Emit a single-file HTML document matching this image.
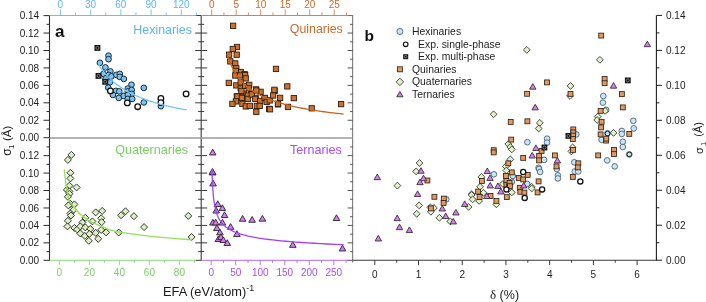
<!DOCTYPE html>
<html><head><meta charset="utf-8"><title>Figure</title>
<style>
html,body{margin:0;padding:0;background:#fff;}
body{width:706px;height:302px;overflow:hidden;}
svg{display:block;font-family:"Liberation Sans", sans-serif;filter:blur(0.3px);}
</style></head>
<body>
<svg width="706" height="302" viewBox="0 0 706 302">
<rect width="706" height="302" fill="#fff"/>
<line x1="49.50" y1="15.00" x2="49.50" y2="260.80" stroke="#2a2a2a" stroke-width="1.1"/>
<line x1="43.50" y1="137.70" x2="49.50" y2="137.70" stroke="#2a2a2a" stroke-width="1.0"/>
<text x="39.20" y="141.30" font-size="10" fill="#1e1e1e" text-anchor="end" font-weight="normal" >0.00</text>
<line x1="43.50" y1="260.30" x2="49.50" y2="260.30" stroke="#2a2a2a" stroke-width="1.0"/>
<text x="39.20" y="263.90" font-size="10" fill="#1e1e1e" text-anchor="end" font-weight="normal" >0.00</text>
<line x1="46.50" y1="128.98" x2="49.50" y2="128.98" stroke="#2a2a2a" stroke-width="1.0"/>
<line x1="46.50" y1="251.58" x2="49.50" y2="251.58" stroke="#2a2a2a" stroke-width="1.0"/>
<line x1="43.50" y1="120.26" x2="49.50" y2="120.26" stroke="#2a2a2a" stroke-width="1.0"/>
<text x="39.20" y="123.86" font-size="10" fill="#1e1e1e" text-anchor="end" font-weight="normal" >0.02</text>
<line x1="43.50" y1="242.86" x2="49.50" y2="242.86" stroke="#2a2a2a" stroke-width="1.0"/>
<text x="39.20" y="246.46" font-size="10" fill="#1e1e1e" text-anchor="end" font-weight="normal" >0.02</text>
<line x1="46.50" y1="111.54" x2="49.50" y2="111.54" stroke="#2a2a2a" stroke-width="1.0"/>
<line x1="46.50" y1="234.14" x2="49.50" y2="234.14" stroke="#2a2a2a" stroke-width="1.0"/>
<line x1="43.50" y1="102.82" x2="49.50" y2="102.82" stroke="#2a2a2a" stroke-width="1.0"/>
<text x="39.20" y="106.42" font-size="10" fill="#1e1e1e" text-anchor="end" font-weight="normal" >0.04</text>
<line x1="43.50" y1="225.42" x2="49.50" y2="225.42" stroke="#2a2a2a" stroke-width="1.0"/>
<text x="39.20" y="229.02" font-size="10" fill="#1e1e1e" text-anchor="end" font-weight="normal" >0.04</text>
<line x1="46.50" y1="94.09" x2="49.50" y2="94.09" stroke="#2a2a2a" stroke-width="1.0"/>
<line x1="46.50" y1="216.69" x2="49.50" y2="216.69" stroke="#2a2a2a" stroke-width="1.0"/>
<line x1="43.50" y1="85.37" x2="49.50" y2="85.37" stroke="#2a2a2a" stroke-width="1.0"/>
<text x="39.20" y="88.97" font-size="10" fill="#1e1e1e" text-anchor="end" font-weight="normal" >0.06</text>
<line x1="43.50" y1="207.97" x2="49.50" y2="207.97" stroke="#2a2a2a" stroke-width="1.0"/>
<text x="39.20" y="211.57" font-size="10" fill="#1e1e1e" text-anchor="end" font-weight="normal" >0.06</text>
<line x1="46.50" y1="76.65" x2="49.50" y2="76.65" stroke="#2a2a2a" stroke-width="1.0"/>
<line x1="46.50" y1="199.25" x2="49.50" y2="199.25" stroke="#2a2a2a" stroke-width="1.0"/>
<line x1="43.50" y1="67.93" x2="49.50" y2="67.93" stroke="#2a2a2a" stroke-width="1.0"/>
<text x="39.20" y="71.53" font-size="10" fill="#1e1e1e" text-anchor="end" font-weight="normal" >0.08</text>
<line x1="43.50" y1="190.53" x2="49.50" y2="190.53" stroke="#2a2a2a" stroke-width="1.0"/>
<text x="39.20" y="194.13" font-size="10" fill="#1e1e1e" text-anchor="end" font-weight="normal" >0.08</text>
<line x1="46.50" y1="59.21" x2="49.50" y2="59.21" stroke="#2a2a2a" stroke-width="1.0"/>
<line x1="46.50" y1="181.81" x2="49.50" y2="181.81" stroke="#2a2a2a" stroke-width="1.0"/>
<line x1="43.50" y1="50.49" x2="49.50" y2="50.49" stroke="#2a2a2a" stroke-width="1.0"/>
<text x="39.20" y="54.09" font-size="10" fill="#1e1e1e" text-anchor="end" font-weight="normal" >0.10</text>
<line x1="43.50" y1="173.09" x2="49.50" y2="173.09" stroke="#2a2a2a" stroke-width="1.0"/>
<text x="39.20" y="176.69" font-size="10" fill="#1e1e1e" text-anchor="end" font-weight="normal" >0.10</text>
<line x1="46.50" y1="41.77" x2="49.50" y2="41.77" stroke="#2a2a2a" stroke-width="1.0"/>
<line x1="46.50" y1="164.37" x2="49.50" y2="164.37" stroke="#2a2a2a" stroke-width="1.0"/>
<line x1="43.50" y1="33.05" x2="49.50" y2="33.05" stroke="#2a2a2a" stroke-width="1.0"/>
<text x="39.20" y="36.65" font-size="10" fill="#1e1e1e" text-anchor="end" font-weight="normal" >0.12</text>
<line x1="43.50" y1="155.65" x2="49.50" y2="155.65" stroke="#2a2a2a" stroke-width="1.0"/>
<text x="39.20" y="159.25" font-size="10" fill="#1e1e1e" text-anchor="end" font-weight="normal" >0.12</text>
<line x1="46.50" y1="24.33" x2="49.50" y2="24.33" stroke="#2a2a2a" stroke-width="1.0"/>
<line x1="46.50" y1="146.93" x2="49.50" y2="146.93" stroke="#2a2a2a" stroke-width="1.0"/>
<line x1="43.50" y1="15.61" x2="49.50" y2="15.61" stroke="#2a2a2a" stroke-width="1.0"/>
<text x="39.20" y="19.21" font-size="10" fill="#1e1e1e" text-anchor="end" font-weight="normal" >0.14</text>
<line x1="201.20" y1="15.50" x2="201.20" y2="260.80" stroke="#3a3a3a" stroke-width="1.1"/>
<line x1="198.20" y1="128.98" x2="204.20" y2="128.98" stroke="#3a3a3a" stroke-width="1.0"/>
<line x1="198.20" y1="251.58" x2="204.20" y2="251.58" stroke="#3a3a3a" stroke-width="1.0"/>
<line x1="195.20" y1="120.26" x2="207.20" y2="120.26" stroke="#3a3a3a" stroke-width="1.0"/>
<line x1="195.20" y1="242.86" x2="207.20" y2="242.86" stroke="#3a3a3a" stroke-width="1.0"/>
<line x1="198.20" y1="111.54" x2="204.20" y2="111.54" stroke="#3a3a3a" stroke-width="1.0"/>
<line x1="198.20" y1="234.14" x2="204.20" y2="234.14" stroke="#3a3a3a" stroke-width="1.0"/>
<line x1="195.20" y1="102.82" x2="207.20" y2="102.82" stroke="#3a3a3a" stroke-width="1.0"/>
<line x1="195.20" y1="225.42" x2="207.20" y2="225.42" stroke="#3a3a3a" stroke-width="1.0"/>
<line x1="198.20" y1="94.09" x2="204.20" y2="94.09" stroke="#3a3a3a" stroke-width="1.0"/>
<line x1="198.20" y1="216.69" x2="204.20" y2="216.69" stroke="#3a3a3a" stroke-width="1.0"/>
<line x1="195.20" y1="85.37" x2="207.20" y2="85.37" stroke="#3a3a3a" stroke-width="1.0"/>
<line x1="195.20" y1="207.97" x2="207.20" y2="207.97" stroke="#3a3a3a" stroke-width="1.0"/>
<line x1="198.20" y1="76.65" x2="204.20" y2="76.65" stroke="#3a3a3a" stroke-width="1.0"/>
<line x1="198.20" y1="199.25" x2="204.20" y2="199.25" stroke="#3a3a3a" stroke-width="1.0"/>
<line x1="195.20" y1="67.93" x2="207.20" y2="67.93" stroke="#3a3a3a" stroke-width="1.0"/>
<line x1="195.20" y1="190.53" x2="207.20" y2="190.53" stroke="#3a3a3a" stroke-width="1.0"/>
<line x1="198.20" y1="59.21" x2="204.20" y2="59.21" stroke="#3a3a3a" stroke-width="1.0"/>
<line x1="198.20" y1="181.81" x2="204.20" y2="181.81" stroke="#3a3a3a" stroke-width="1.0"/>
<line x1="195.20" y1="50.49" x2="207.20" y2="50.49" stroke="#3a3a3a" stroke-width="1.0"/>
<line x1="195.20" y1="173.09" x2="207.20" y2="173.09" stroke="#3a3a3a" stroke-width="1.0"/>
<line x1="198.20" y1="41.77" x2="204.20" y2="41.77" stroke="#3a3a3a" stroke-width="1.0"/>
<line x1="198.20" y1="164.37" x2="204.20" y2="164.37" stroke="#3a3a3a" stroke-width="1.0"/>
<line x1="195.20" y1="33.05" x2="207.20" y2="33.05" stroke="#3a3a3a" stroke-width="1.0"/>
<line x1="195.20" y1="155.65" x2="207.20" y2="155.65" stroke="#3a3a3a" stroke-width="1.0"/>
<line x1="198.20" y1="24.33" x2="204.20" y2="24.33" stroke="#3a3a3a" stroke-width="1.0"/>
<line x1="198.20" y1="146.93" x2="204.20" y2="146.93" stroke="#3a3a3a" stroke-width="1.0"/>
<line x1="352.60" y1="15.00" x2="352.60" y2="262.60" stroke="#858585" stroke-width="1.2"/>
<line x1="350.10" y1="128.98" x2="352.60" y2="128.98" stroke="#555" stroke-width="1.0"/>
<line x1="350.10" y1="251.58" x2="352.60" y2="251.58" stroke="#555" stroke-width="1.0"/>
<line x1="347.60" y1="120.26" x2="352.60" y2="120.26" stroke="#555" stroke-width="1.0"/>
<line x1="347.60" y1="242.86" x2="352.60" y2="242.86" stroke="#555" stroke-width="1.0"/>
<line x1="350.10" y1="111.54" x2="352.60" y2="111.54" stroke="#555" stroke-width="1.0"/>
<line x1="350.10" y1="234.14" x2="352.60" y2="234.14" stroke="#555" stroke-width="1.0"/>
<line x1="347.60" y1="102.82" x2="352.60" y2="102.82" stroke="#555" stroke-width="1.0"/>
<line x1="347.60" y1="225.42" x2="352.60" y2="225.42" stroke="#555" stroke-width="1.0"/>
<line x1="350.10" y1="94.09" x2="352.60" y2="94.09" stroke="#555" stroke-width="1.0"/>
<line x1="350.10" y1="216.69" x2="352.60" y2="216.69" stroke="#555" stroke-width="1.0"/>
<line x1="347.60" y1="85.37" x2="352.60" y2="85.37" stroke="#555" stroke-width="1.0"/>
<line x1="347.60" y1="207.97" x2="352.60" y2="207.97" stroke="#555" stroke-width="1.0"/>
<line x1="350.10" y1="76.65" x2="352.60" y2="76.65" stroke="#555" stroke-width="1.0"/>
<line x1="350.10" y1="199.25" x2="352.60" y2="199.25" stroke="#555" stroke-width="1.0"/>
<line x1="347.60" y1="67.93" x2="352.60" y2="67.93" stroke="#555" stroke-width="1.0"/>
<line x1="347.60" y1="190.53" x2="352.60" y2="190.53" stroke="#555" stroke-width="1.0"/>
<line x1="350.10" y1="59.21" x2="352.60" y2="59.21" stroke="#555" stroke-width="1.0"/>
<line x1="350.10" y1="181.81" x2="352.60" y2="181.81" stroke="#555" stroke-width="1.0"/>
<line x1="347.60" y1="50.49" x2="352.60" y2="50.49" stroke="#555" stroke-width="1.0"/>
<line x1="347.60" y1="173.09" x2="352.60" y2="173.09" stroke="#555" stroke-width="1.0"/>
<line x1="350.10" y1="41.77" x2="352.60" y2="41.77" stroke="#555" stroke-width="1.0"/>
<line x1="350.10" y1="164.37" x2="352.60" y2="164.37" stroke="#555" stroke-width="1.0"/>
<line x1="347.60" y1="33.05" x2="352.60" y2="33.05" stroke="#555" stroke-width="1.0"/>
<line x1="347.60" y1="155.65" x2="352.60" y2="155.65" stroke="#555" stroke-width="1.0"/>
<line x1="350.10" y1="24.33" x2="352.60" y2="24.33" stroke="#555" stroke-width="1.0"/>
<line x1="350.10" y1="146.93" x2="352.60" y2="146.93" stroke="#555" stroke-width="1.0"/>
<line x1="49.50" y1="137.95" x2="352.60" y2="137.95" stroke="#9a9a9a" stroke-width="1.5"/>
<line x1="49.50" y1="15.50" x2="195.70" y2="15.50" stroke="#6cbff2" stroke-width="1.0"/>
<line x1="195.70" y1="15.50" x2="201.20" y2="15.50" stroke="#3a3a3a" stroke-width="1.0"/>
<line x1="60.40" y1="9.50" x2="60.40" y2="15.50" stroke="#6cbff2" stroke-width="0.9"/>
<text x="60.40" y="7.70" font-size="10" fill="#5cb6ee" text-anchor="middle" font-weight="normal" >0</text>
<line x1="75.51" y1="12.50" x2="75.51" y2="15.50" stroke="#6cbff2" stroke-width="0.9"/>
<line x1="90.62" y1="9.50" x2="90.62" y2="15.50" stroke="#6cbff2" stroke-width="0.9"/>
<text x="90.62" y="7.70" font-size="10" fill="#5cb6ee" text-anchor="middle" font-weight="normal" >30</text>
<line x1="105.74" y1="12.50" x2="105.74" y2="15.50" stroke="#6cbff2" stroke-width="0.9"/>
<line x1="120.85" y1="9.50" x2="120.85" y2="15.50" stroke="#6cbff2" stroke-width="0.9"/>
<text x="120.85" y="7.70" font-size="10" fill="#5cb6ee" text-anchor="middle" font-weight="normal" >60</text>
<line x1="135.96" y1="12.50" x2="135.96" y2="15.50" stroke="#6cbff2" stroke-width="0.9"/>
<line x1="151.08" y1="9.50" x2="151.08" y2="15.50" stroke="#6cbff2" stroke-width="0.9"/>
<text x="151.08" y="7.70" font-size="10" fill="#5cb6ee" text-anchor="middle" font-weight="normal" >90</text>
<line x1="166.19" y1="12.50" x2="166.19" y2="15.50" stroke="#6cbff2" stroke-width="0.9"/>
<line x1="181.30" y1="9.50" x2="181.30" y2="15.50" stroke="#6cbff2" stroke-width="0.9"/>
<text x="181.30" y="7.70" font-size="10" fill="#5cb6ee" text-anchor="middle" font-weight="normal" >120</text>
<line x1="196.41" y1="12.50" x2="196.41" y2="15.50" stroke="#6cbff2" stroke-width="0.9"/>
<line x1="201.20" y1="15.50" x2="348.10" y2="15.50" stroke="#d5824a" stroke-width="1.0"/>
<line x1="348.10" y1="15.50" x2="352.60" y2="15.50" stroke="#6e6e6e" stroke-width="1.0"/>
<line x1="211.70" y1="9.50" x2="211.70" y2="15.50" stroke="#d5824a" stroke-width="0.9"/>
<text x="211.70" y="7.70" font-size="10" fill="#c96a2a" text-anchor="middle" font-weight="normal" >0</text>
<line x1="223.95" y1="12.50" x2="223.95" y2="15.50" stroke="#d5824a" stroke-width="0.9"/>
<line x1="236.20" y1="9.50" x2="236.20" y2="15.50" stroke="#d5824a" stroke-width="0.9"/>
<text x="236.20" y="7.70" font-size="10" fill="#c96a2a" text-anchor="middle" font-weight="normal" >5</text>
<line x1="248.45" y1="12.50" x2="248.45" y2="15.50" stroke="#d5824a" stroke-width="0.9"/>
<line x1="260.70" y1="9.50" x2="260.70" y2="15.50" stroke="#d5824a" stroke-width="0.9"/>
<text x="260.70" y="7.70" font-size="10" fill="#c96a2a" text-anchor="middle" font-weight="normal" >10</text>
<line x1="272.95" y1="12.50" x2="272.95" y2="15.50" stroke="#d5824a" stroke-width="0.9"/>
<line x1="285.20" y1="9.50" x2="285.20" y2="15.50" stroke="#d5824a" stroke-width="0.9"/>
<text x="285.20" y="7.70" font-size="10" fill="#c96a2a" text-anchor="middle" font-weight="normal" >15</text>
<line x1="297.45" y1="12.50" x2="297.45" y2="15.50" stroke="#d5824a" stroke-width="0.9"/>
<line x1="309.70" y1="9.50" x2="309.70" y2="15.50" stroke="#d5824a" stroke-width="0.9"/>
<text x="309.70" y="7.70" font-size="10" fill="#c96a2a" text-anchor="middle" font-weight="normal" >20</text>
<line x1="321.95" y1="12.50" x2="321.95" y2="15.50" stroke="#d5824a" stroke-width="0.9"/>
<line x1="334.20" y1="9.50" x2="334.20" y2="15.50" stroke="#d5824a" stroke-width="0.9"/>
<text x="334.20" y="7.70" font-size="10" fill="#c96a2a" text-anchor="middle" font-weight="normal" >25</text>
<line x1="346.45" y1="12.50" x2="346.45" y2="15.50" stroke="#d5824a" stroke-width="0.9"/>
<line x1="49.50" y1="260.30" x2="195.70" y2="260.30" stroke="#8ad878" stroke-width="1.0"/>
<line x1="195.70" y1="260.30" x2="201.20" y2="260.30" stroke="#3a3a3a" stroke-width="1.0"/>
<line x1="59.40" y1="260.30" x2="59.40" y2="265.30" stroke="#8ad878" stroke-width="0.9"/>
<text x="59.40" y="275.50" font-size="10" fill="#78cf62" text-anchor="middle" font-weight="normal" >0</text>
<line x1="74.40" y1="260.30" x2="74.40" y2="262.90" stroke="#8ad878" stroke-width="0.9"/>
<line x1="89.40" y1="260.30" x2="89.40" y2="265.30" stroke="#8ad878" stroke-width="0.9"/>
<text x="89.40" y="275.50" font-size="10" fill="#78cf62" text-anchor="middle" font-weight="normal" >20</text>
<line x1="104.40" y1="260.30" x2="104.40" y2="262.90" stroke="#8ad878" stroke-width="0.9"/>
<line x1="119.40" y1="260.30" x2="119.40" y2="265.30" stroke="#8ad878" stroke-width="0.9"/>
<text x="119.40" y="275.50" font-size="10" fill="#78cf62" text-anchor="middle" font-weight="normal" >40</text>
<line x1="134.40" y1="260.30" x2="134.40" y2="262.90" stroke="#8ad878" stroke-width="0.9"/>
<line x1="149.40" y1="260.30" x2="149.40" y2="265.30" stroke="#8ad878" stroke-width="0.9"/>
<text x="149.40" y="275.50" font-size="10" fill="#78cf62" text-anchor="middle" font-weight="normal" >60</text>
<line x1="164.40" y1="260.30" x2="164.40" y2="262.90" stroke="#8ad878" stroke-width="0.9"/>
<line x1="179.40" y1="260.30" x2="179.40" y2="265.30" stroke="#8ad878" stroke-width="0.9"/>
<text x="179.40" y="275.50" font-size="10" fill="#78cf62" text-anchor="middle" font-weight="normal" >80</text>
<line x1="194.40" y1="260.30" x2="194.40" y2="262.90" stroke="#8ad878" stroke-width="0.9"/>
<line x1="201.20" y1="260.30" x2="346.60" y2="260.30" stroke="#b068f2" stroke-width="1.0"/>
<line x1="346.60" y1="260.30" x2="352.60" y2="260.30" stroke="#555" stroke-width="1.0"/>
<line x1="211.20" y1="260.30" x2="211.20" y2="265.30" stroke="#b068f2" stroke-width="0.9"/>
<text x="211.20" y="275.50" font-size="10" fill="#a64cf0" text-anchor="middle" font-weight="normal" >0</text>
<line x1="223.46" y1="260.30" x2="223.46" y2="262.90" stroke="#b068f2" stroke-width="0.9"/>
<line x1="235.73" y1="260.30" x2="235.73" y2="265.30" stroke="#b068f2" stroke-width="0.9"/>
<text x="235.73" y="275.50" font-size="10" fill="#a64cf0" text-anchor="middle" font-weight="normal" >50</text>
<line x1="248.00" y1="260.30" x2="248.00" y2="262.90" stroke="#b068f2" stroke-width="0.9"/>
<line x1="260.26" y1="260.30" x2="260.26" y2="265.30" stroke="#b068f2" stroke-width="0.9"/>
<text x="260.26" y="275.50" font-size="10" fill="#a64cf0" text-anchor="middle" font-weight="normal" >100</text>
<line x1="272.52" y1="260.30" x2="272.52" y2="262.90" stroke="#b068f2" stroke-width="0.9"/>
<line x1="284.79" y1="260.30" x2="284.79" y2="265.30" stroke="#b068f2" stroke-width="0.9"/>
<text x="284.79" y="275.50" font-size="10" fill="#a64cf0" text-anchor="middle" font-weight="normal" >150</text>
<line x1="297.05" y1="260.30" x2="297.05" y2="262.90" stroke="#b068f2" stroke-width="0.9"/>
<line x1="309.32" y1="260.30" x2="309.32" y2="265.30" stroke="#b068f2" stroke-width="0.9"/>
<text x="309.32" y="275.50" font-size="10" fill="#a64cf0" text-anchor="middle" font-weight="normal" >200</text>
<line x1="321.58" y1="260.30" x2="321.58" y2="262.90" stroke="#b068f2" stroke-width="0.9"/>
<line x1="333.85" y1="260.30" x2="333.85" y2="265.30" stroke="#b068f2" stroke-width="0.9"/>
<text x="333.85" y="275.50" font-size="10" fill="#a64cf0" text-anchor="middle" font-weight="normal" >250</text>
<line x1="346.12" y1="260.30" x2="346.12" y2="262.90" stroke="#b068f2" stroke-width="0.9"/>
<text x="191.90" y="33.60" font-size="12.4" fill="#5cb6ee" text-anchor="end" font-weight="normal" >Hexinaries</text>
<text x="342.80" y="33.40" font-size="12.4" fill="#c96a2a" text-anchor="end" font-weight="normal" >Quinaries</text>
<text x="188.00" y="154.30" font-size="12.6" fill="#78cf62" text-anchor="end" font-weight="normal" >Quaternaries</text>
<text x="341.80" y="154.30" font-size="12.6" fill="#a64cf0" text-anchor="end" font-weight="normal" >Ternaries</text>
<text x="55.00" y="36.80" font-size="17" fill="#111" text-anchor="start" font-weight="bold" >a</text>
<text x="163.00" y="295.70" font-size="12.8" fill="#1a1a1a" text-anchor="start" font-weight="normal" >EFA (eV/atom)<tspan font-size="8.8" dy="-5.2">-1</tspan></text>
<text transform="translate(11.00,152.00) rotate(-90)" font-size="12" fill="#1a1a1a" text-anchor="middle">σ</text>
<text transform="translate(14.40,146.80) rotate(-90)" font-size="8" fill="#1a1a1a" text-anchor="middle">1</text>
<text transform="translate(11.20,133.30) rotate(-90)" font-size="11.5" fill="#1a1a1a" text-anchor="middle">(Å)</text>
<circle cx="108.50" cy="55.70" r="2.85" fill="#7ac4f4" stroke="#1f2a33" stroke-width="1.0"/>
<circle cx="108.50" cy="59.20" r="2.85" fill="#7ac4f4" stroke="#1f2a33" stroke-width="1.0"/>
<circle cx="99.90" cy="62.80" r="2.85" fill="#7ac4f4" stroke="#1f2a33" stroke-width="1.0"/>
<circle cx="105.40" cy="67.40" r="2.85" fill="#7ac4f4" stroke="#1f2a33" stroke-width="1.0"/>
<circle cx="110.40" cy="71.40" r="2.85" fill="#7ac4f4" stroke="#1f2a33" stroke-width="1.0"/>
<circle cx="103.40" cy="73.90" r="2.85" fill="#7ac4f4" stroke="#1f2a33" stroke-width="1.0"/>
<circle cx="108.90" cy="74.90" r="2.85" fill="#7ac4f4" stroke="#1f2a33" stroke-width="1.0"/>
<circle cx="111.40" cy="76.40" r="2.85" fill="#7ac4f4" stroke="#1f2a33" stroke-width="1.0"/>
<circle cx="116.40" cy="74.90" r="2.85" fill="#7ac4f4" stroke="#1f2a33" stroke-width="1.0"/>
<circle cx="119.80" cy="73.90" r="2.85" fill="#7ac4f4" stroke="#1f2a33" stroke-width="1.0"/>
<circle cx="119.80" cy="76.90" r="2.85" fill="#7ac4f4" stroke="#1f2a33" stroke-width="1.0"/>
<circle cx="123.80" cy="78.90" r="2.85" fill="#7ac4f4" stroke="#1f2a33" stroke-width="1.0"/>
<circle cx="109.90" cy="82.30" r="2.85" fill="#7ac4f4" stroke="#1f2a33" stroke-width="1.0"/>
<circle cx="131.50" cy="84.70" r="2.85" fill="#7ac4f4" stroke="#1f2a33" stroke-width="1.0"/>
<circle cx="143.80" cy="87.90" r="2.85" fill="#7ac4f4" stroke="#1f2a33" stroke-width="1.0"/>
<circle cx="108.20" cy="87.60" r="2.85" fill="#7ac4f4" stroke="#1f2a33" stroke-width="1.0"/>
<circle cx="127.80" cy="88.60" r="2.85" fill="#7ac4f4" stroke="#1f2a33" stroke-width="1.0"/>
<circle cx="115.90" cy="90.90" r="2.85" fill="#7ac4f4" stroke="#1f2a33" stroke-width="1.0"/>
<circle cx="119.30" cy="91.40" r="2.85" fill="#7ac4f4" stroke="#1f2a33" stroke-width="1.0"/>
<circle cx="127.80" cy="91.40" r="2.85" fill="#7ac4f4" stroke="#1f2a33" stroke-width="1.0"/>
<circle cx="131.70" cy="90.00" r="2.85" fill="#7ac4f4" stroke="#1f2a33" stroke-width="1.0"/>
<circle cx="131.70" cy="93.90" r="2.85" fill="#7ac4f4" stroke="#1f2a33" stroke-width="1.0"/>
<circle cx="112.90" cy="94.90" r="2.85" fill="#7ac4f4" stroke="#1f2a33" stroke-width="1.0"/>
<circle cx="118.80" cy="97.90" r="2.85" fill="#7ac4f4" stroke="#1f2a33" stroke-width="1.0"/>
<circle cx="123.80" cy="95.90" r="2.85" fill="#7ac4f4" stroke="#1f2a33" stroke-width="1.0"/>
<circle cx="127.80" cy="94.90" r="2.85" fill="#7ac4f4" stroke="#1f2a33" stroke-width="1.0"/>
<circle cx="127.80" cy="98.90" r="2.85" fill="#7ac4f4" stroke="#1f2a33" stroke-width="1.0"/>
<circle cx="132.20" cy="98.90" r="2.85" fill="#7ac4f4" stroke="#1f2a33" stroke-width="1.0"/>
<circle cx="143.80" cy="102.40" r="2.85" fill="#7ac4f4" stroke="#1f2a33" stroke-width="1.0"/>
<circle cx="160.90" cy="106.20" r="2.85" fill="#7ac4f4" stroke="#1f2a33" stroke-width="1.0"/>
<circle cx="105.60" cy="78.50" r="2.85" fill="#7ac4f4" stroke="#1f2a33" stroke-width="1.0"/>
<circle cx="110.40" cy="90.90" r="2.8" fill="#fff" stroke="#111" stroke-width="1.3"/>
<circle cx="127.30" cy="102.90" r="2.8" fill="#fff" stroke="#111" stroke-width="1.3"/>
<circle cx="137.70" cy="106.70" r="2.8" fill="#fff" stroke="#111" stroke-width="1.3"/>
<circle cx="160.90" cy="98.40" r="2.8" fill="#fff" stroke="#111" stroke-width="1.3"/>
<circle cx="160.90" cy="102.60" r="2.8" fill="#fff" stroke="#111" stroke-width="1.3"/>
<circle cx="186.10" cy="93.90" r="2.8" fill="#fff" stroke="#111" stroke-width="1.3"/>
<rect x="94.45" y="44.95" width="5.9" height="5.9" fill="#111"/>
<circle cx="97.40" cy="47.90" r="1.53" fill="none" stroke="#a8a8a8" stroke-width="0.7"/>
<rect x="95.55" y="72.95" width="5.9" height="5.9" fill="#111"/>
<circle cx="98.50" cy="75.90" r="1.53" fill="none" stroke="#a8a8a8" stroke-width="0.7"/>
<rect x="102.25" y="78.85" width="5.9" height="5.9" fill="#111"/>
<circle cx="105.20" cy="81.80" r="1.53" fill="none" stroke="#a8a8a8" stroke-width="0.7"/>
<polyline points="98.28,64.30 98.86,65.18 99.44,66.06 100.03,66.93 100.64,67.78 101.25,68.63 101.87,69.47 102.50,70.29 103.13,71.11 103.78,71.91 104.44,72.71 105.11,73.50 105.79,74.27 106.48,75.04 107.18,75.80 107.89,76.55 108.61,77.29 109.34,78.02 110.08,78.74 110.84,79.45 111.60,80.16 112.38,80.85 113.17,81.54 113.97,82.22 114.78,82.89 115.61,83.56 116.45,84.21 117.30,84.86 118.16,85.50 119.04,86.13 119.93,86.75 120.83,87.37 121.75,87.98 122.68,88.58 123.63,89.17 124.59,89.76 125.56,90.34 126.55,90.91 127.55,91.48 128.57,92.04 129.61,92.59 130.66,93.14 131.73,93.68 132.81,94.21 133.91,94.74 135.02,95.26 136.16,95.77 137.31,96.28 138.47,96.78 139.66,97.27 140.86,97.76 142.08,98.25 143.32,98.72 144.58,99.20 145.86,99.66 147.16,100.12 148.47,100.58 149.81,101.03 151.17,101.47 152.55,101.91 153.95,102.34 155.37,102.77 156.81,103.19 158.27,103.61 159.76,104.02 161.27,104.43 162.80,104.83 164.35,105.23 165.93,105.62 167.53,106.01 169.16,106.39 170.81,106.77 172.48,107.15 174.19,107.52 175.91,107.88 177.67,108.24 179.45,108.60 181.25,108.95 183.09,109.30 184.95,109.64 186.84,109.98" fill="none" stroke="#6fc6f6" stroke-width="1.3"/>
<rect x="230.45" y="23.15" width="5.3" height="5.3" fill="#d0722e" stroke="#2a2018" stroke-width="0.9"/>
<rect x="234.35" y="44.35" width="5.3" height="5.3" fill="#d0722e" stroke="#2a2018" stroke-width="0.9"/>
<rect x="230.15" y="46.35" width="5.3" height="5.3" fill="#d0722e" stroke="#2a2018" stroke-width="0.9"/>
<rect x="226.45" y="52.05" width="5.3" height="5.3" fill="#d0722e" stroke="#2a2018" stroke-width="0.9"/>
<rect x="234.05" y="52.05" width="5.3" height="5.3" fill="#d0722e" stroke="#2a2018" stroke-width="0.9"/>
<rect x="227.65" y="58.75" width="5.3" height="5.3" fill="#d0722e" stroke="#2a2018" stroke-width="0.9"/>
<rect x="232.65" y="60.75" width="5.3" height="5.3" fill="#d0722e" stroke="#2a2018" stroke-width="0.9"/>
<rect x="233.65" y="65.65" width="5.3" height="5.3" fill="#d0722e" stroke="#2a2018" stroke-width="0.9"/>
<rect x="238.05" y="69.35" width="5.3" height="5.3" fill="#d0722e" stroke="#2a2018" stroke-width="0.9"/>
<rect x="233.15" y="68.35" width="5.3" height="5.3" fill="#d0722e" stroke="#2a2018" stroke-width="0.9"/>
<rect x="242.05" y="71.65" width="5.3" height="5.3" fill="#d0722e" stroke="#2a2018" stroke-width="0.9"/>
<rect x="232.65" y="72.85" width="5.3" height="5.3" fill="#d0722e" stroke="#2a2018" stroke-width="0.9"/>
<rect x="237.55" y="72.85" width="5.3" height="5.3" fill="#d0722e" stroke="#2a2018" stroke-width="0.9"/>
<rect x="242.55" y="72.35" width="5.3" height="5.3" fill="#d0722e" stroke="#2a2018" stroke-width="0.9"/>
<rect x="243.05" y="75.75" width="5.3" height="5.3" fill="#d0722e" stroke="#2a2018" stroke-width="0.9"/>
<rect x="226.15" y="80.25" width="5.3" height="5.3" fill="#d0722e" stroke="#2a2018" stroke-width="0.9"/>
<rect x="233.65" y="82.75" width="5.3" height="5.3" fill="#d0722e" stroke="#2a2018" stroke-width="0.9"/>
<rect x="238.05" y="79.75" width="5.3" height="5.3" fill="#d0722e" stroke="#2a2018" stroke-width="0.9"/>
<rect x="238.05" y="85.75" width="5.3" height="5.3" fill="#d0722e" stroke="#2a2018" stroke-width="0.9"/>
<rect x="242.55" y="83.25" width="5.3" height="5.3" fill="#d0722e" stroke="#2a2018" stroke-width="0.9"/>
<rect x="246.55" y="82.25" width="5.3" height="5.3" fill="#d0722e" stroke="#2a2018" stroke-width="0.9"/>
<rect x="246.05" y="85.75" width="5.3" height="5.3" fill="#d0722e" stroke="#2a2018" stroke-width="0.9"/>
<rect x="253.45" y="86.75" width="5.3" height="5.3" fill="#d0722e" stroke="#2a2018" stroke-width="0.9"/>
<rect x="257.95" y="89.15" width="5.3" height="5.3" fill="#d0722e" stroke="#2a2018" stroke-width="0.9"/>
<rect x="241.05" y="91.15" width="5.3" height="5.3" fill="#d0722e" stroke="#2a2018" stroke-width="0.9"/>
<rect x="248.45" y="91.65" width="5.3" height="5.3" fill="#d0722e" stroke="#2a2018" stroke-width="0.9"/>
<rect x="234.15" y="93.65" width="5.3" height="5.3" fill="#d0722e" stroke="#2a2018" stroke-width="0.9"/>
<rect x="238.55" y="94.15" width="5.3" height="5.3" fill="#d0722e" stroke="#2a2018" stroke-width="0.9"/>
<rect x="252.95" y="95.15" width="5.3" height="5.3" fill="#d0722e" stroke="#2a2018" stroke-width="0.9"/>
<rect x="261.95" y="95.65" width="5.3" height="5.3" fill="#d0722e" stroke="#2a2018" stroke-width="0.9"/>
<rect x="238.75" y="88.35" width="5.3" height="5.3" fill="#d0722e" stroke="#2a2018" stroke-width="0.9"/>
<rect x="234.75" y="93.85" width="5.3" height="5.3" fill="#d0722e" stroke="#2a2018" stroke-width="0.9"/>
<rect x="239.25" y="95.25" width="5.3" height="5.3" fill="#d0722e" stroke="#2a2018" stroke-width="0.9"/>
<rect x="245.15" y="92.85" width="5.3" height="5.3" fill="#d0722e" stroke="#2a2018" stroke-width="0.9"/>
<rect x="245.15" y="96.25" width="5.3" height="5.3" fill="#d0722e" stroke="#2a2018" stroke-width="0.9"/>
<rect x="249.15" y="91.85" width="5.3" height="5.3" fill="#d0722e" stroke="#2a2018" stroke-width="0.9"/>
<rect x="253.65" y="87.85" width="5.3" height="5.3" fill="#d0722e" stroke="#2a2018" stroke-width="0.9"/>
<rect x="252.65" y="96.25" width="5.3" height="5.3" fill="#d0722e" stroke="#2a2018" stroke-width="0.9"/>
<rect x="257.55" y="98.25" width="5.3" height="5.3" fill="#d0722e" stroke="#2a2018" stroke-width="0.9"/>
<rect x="262.05" y="95.25" width="5.3" height="5.3" fill="#d0722e" stroke="#2a2018" stroke-width="0.9"/>
<rect x="264.05" y="99.25" width="5.3" height="5.3" fill="#d0722e" stroke="#2a2018" stroke-width="0.9"/>
<rect x="267.05" y="97.75" width="5.3" height="5.3" fill="#d0722e" stroke="#2a2018" stroke-width="0.9"/>
<rect x="271.95" y="88.35" width="5.3" height="5.3" fill="#d0722e" stroke="#2a2018" stroke-width="0.9"/>
<rect x="270.45" y="92.85" width="5.3" height="5.3" fill="#d0722e" stroke="#2a2018" stroke-width="0.9"/>
<rect x="277.45" y="95.25" width="5.3" height="5.3" fill="#d0722e" stroke="#2a2018" stroke-width="0.9"/>
<rect x="233.25" y="98.75" width="5.3" height="5.3" fill="#d0722e" stroke="#2a2018" stroke-width="0.9"/>
<rect x="229.75" y="101.25" width="5.3" height="5.3" fill="#d0722e" stroke="#2a2018" stroke-width="0.9"/>
<rect x="239.75" y="101.25" width="5.3" height="5.3" fill="#d0722e" stroke="#2a2018" stroke-width="0.9"/>
<rect x="243.15" y="103.75" width="5.3" height="5.3" fill="#d0722e" stroke="#2a2018" stroke-width="0.9"/>
<rect x="247.15" y="103.25" width="5.3" height="5.3" fill="#d0722e" stroke="#2a2018" stroke-width="0.9"/>
<rect x="254.15" y="103.25" width="5.3" height="5.3" fill="#d0722e" stroke="#2a2018" stroke-width="0.9"/>
<rect x="257.05" y="103.25" width="5.3" height="5.3" fill="#d0722e" stroke="#2a2018" stroke-width="0.9"/>
<rect x="275.45" y="101.75" width="5.3" height="5.3" fill="#d0722e" stroke="#2a2018" stroke-width="0.9"/>
<rect x="266.55" y="106.25" width="5.3" height="5.3" fill="#d0722e" stroke="#2a2018" stroke-width="0.9"/>
<rect x="253.65" y="109.15" width="5.3" height="5.3" fill="#d0722e" stroke="#2a2018" stroke-width="0.9"/>
<rect x="285.35" y="104.25" width="5.3" height="5.3" fill="#d0722e" stroke="#2a2018" stroke-width="0.9"/>
<rect x="273.35" y="66.25" width="5.3" height="5.3" fill="#d0722e" stroke="#2a2018" stroke-width="0.9"/>
<rect x="284.65" y="83.75" width="5.3" height="5.3" fill="#d0722e" stroke="#2a2018" stroke-width="0.9"/>
<rect x="271.75" y="87.15" width="5.3" height="5.3" fill="#d0722e" stroke="#2a2018" stroke-width="0.9"/>
<rect x="291.15" y="95.45" width="5.3" height="5.3" fill="#d0722e" stroke="#2a2018" stroke-width="0.9"/>
<rect x="275.25" y="101.05" width="5.3" height="5.3" fill="#d0722e" stroke="#2a2018" stroke-width="0.9"/>
<rect x="309.05" y="105.65" width="5.3" height="5.3" fill="#d0722e" stroke="#2a2018" stroke-width="0.9"/>
<rect x="338.45" y="101.45" width="5.3" height="5.3" fill="#d0722e" stroke="#2a2018" stroke-width="0.9"/>
<rect x="267.35" y="106.65" width="5.3" height="5.3" fill="#d0722e" stroke="#2a2018" stroke-width="0.9"/>
<polyline points="226.99,54.07 227.41,55.38 227.83,56.67 228.27,57.94 228.73,59.19 229.19,60.42 229.67,61.63 230.16,62.83 230.66,64.00 231.18,65.16 231.71,66.29 232.26,67.41 232.82,68.52 233.40,69.60 233.99,70.67 234.60,71.72 235.22,72.75 235.86,73.77 236.52,74.78 237.20,75.76 237.90,76.73 238.61,77.69 239.35,78.63 240.10,79.56 240.88,80.47 241.67,81.37 242.49,82.25 243.33,83.12 244.19,83.98 245.08,84.82 245.99,85.65 246.93,86.46 247.89,87.27 248.88,88.06 249.89,88.84 250.94,89.60 252.01,90.36 253.11,91.10 254.24,91.83 255.40,92.55 256.59,93.26 257.82,93.96 259.07,94.64 260.37,95.32 261.70,95.98 263.06,96.64 264.46,97.28 265.90,97.91 267.38,98.54 268.90,99.15 270.46,99.76 272.07,100.35 273.71,100.94 275.41,101.51 277.15,102.08 278.93,102.64 280.77,103.19 282.65,103.73 284.59,104.26 286.58,104.79 288.62,105.30 290.72,105.81 292.88,106.31 295.09,106.80 297.37,107.29 299.71,107.77 302.11,108.24 304.58,108.70 307.11,109.15 309.72,109.60 312.39,110.04 315.14,110.47 317.96,110.90 320.87,111.32 323.84,111.74 326.91,112.14 330.05,112.54 333.28,112.94 336.60,113.33 340.01,113.71 343.51,114.08" fill="none" stroke="#c9631c" stroke-width="1.3"/>
<path d="M71.40,151.40L74.90,154.90L71.40,158.40L67.90,154.90Z" fill="#dcf0c0" stroke="#222" stroke-width="0.9"/>
<path d="M67.90,156.40L71.40,159.90L67.90,163.40L64.40,159.90Z" fill="#dcf0c0" stroke="#222" stroke-width="0.9"/>
<path d="M70.40,169.30L73.90,172.80L70.40,176.30L66.90,172.80Z" fill="#dcf0c0" stroke="#222" stroke-width="0.9"/>
<path d="M70.40,174.90L73.90,178.40L70.40,181.90L66.90,178.40Z" fill="#dcf0c0" stroke="#222" stroke-width="0.9"/>
<path d="M69.40,182.20L72.90,185.70L69.40,189.20L65.90,185.70Z" fill="#dcf0c0" stroke="#222" stroke-width="0.9"/>
<path d="M76.60,183.90L80.10,187.40L76.60,190.90L73.10,187.40Z" fill="#dcf0c0" stroke="#222" stroke-width="0.9"/>
<path d="M66.90,186.40L70.40,189.90L66.90,193.40L63.40,189.90Z" fill="#dcf0c0" stroke="#222" stroke-width="0.9"/>
<path d="M69.40,187.90L72.90,191.40L69.40,194.90L65.90,191.40Z" fill="#dcf0c0" stroke="#222" stroke-width="0.9"/>
<path d="M69.40,190.30L72.90,193.80L69.40,197.30L65.90,193.80Z" fill="#dcf0c0" stroke="#222" stroke-width="0.9"/>
<path d="M67.90,193.30L71.40,196.80L67.90,200.30L64.40,196.80Z" fill="#dcf0c0" stroke="#222" stroke-width="0.9"/>
<path d="M70.40,200.40L73.90,203.90L70.40,207.40L66.90,203.90Z" fill="#dcf0c0" stroke="#222" stroke-width="0.9"/>
<path d="M74.40,200.90L77.90,204.40L74.40,207.90L70.90,204.40Z" fill="#dcf0c0" stroke="#222" stroke-width="0.9"/>
<path d="M68.40,201.90L71.90,205.40L68.40,208.90L64.90,205.40Z" fill="#dcf0c0" stroke="#222" stroke-width="0.9"/>
<path d="M73.40,206.40L76.90,209.90L73.40,213.40L69.90,209.90Z" fill="#dcf0c0" stroke="#222" stroke-width="0.9"/>
<path d="M70.40,209.90L73.90,213.40L70.40,216.90L66.90,213.40Z" fill="#dcf0c0" stroke="#222" stroke-width="0.9"/>
<path d="M95.70,208.90L99.20,212.40L95.70,215.90L92.20,212.40Z" fill="#dcf0c0" stroke="#222" stroke-width="0.9"/>
<path d="M102.20,207.40L105.70,210.90L102.20,214.40L98.70,210.90Z" fill="#dcf0c0" stroke="#222" stroke-width="0.9"/>
<path d="M67.90,217.30L71.40,220.80L67.90,224.30L64.40,220.80Z" fill="#dcf0c0" stroke="#222" stroke-width="0.9"/>
<path d="M85.30,214.30L88.80,217.80L85.30,221.30L81.80,217.80Z" fill="#dcf0c0" stroke="#222" stroke-width="0.9"/>
<path d="M92.40,217.90L95.90,221.40L92.40,224.90L88.90,221.40Z" fill="#dcf0c0" stroke="#222" stroke-width="0.9"/>
<path d="M101.20,214.80L104.70,218.30L101.20,221.80L97.70,218.30Z" fill="#dcf0c0" stroke="#222" stroke-width="0.9"/>
<path d="M101.70,218.60L105.20,222.10L101.70,225.60L98.20,222.10Z" fill="#dcf0c0" stroke="#222" stroke-width="0.9"/>
<path d="M82.30,219.10L85.80,222.60L82.30,226.10L78.80,222.60Z" fill="#dcf0c0" stroke="#222" stroke-width="0.9"/>
<path d="M67.40,222.90L70.90,226.40L67.40,229.90L63.90,226.40Z" fill="#dcf0c0" stroke="#222" stroke-width="0.9"/>
<path d="M74.40,224.40L77.90,227.90L74.40,231.40L70.90,227.90Z" fill="#dcf0c0" stroke="#222" stroke-width="0.9"/>
<path d="M77.30,225.90L80.80,229.40L77.30,232.90L73.80,229.40Z" fill="#dcf0c0" stroke="#222" stroke-width="0.9"/>
<path d="M80.30,222.90L83.80,226.40L80.30,229.90L76.80,226.40Z" fill="#dcf0c0" stroke="#222" stroke-width="0.9"/>
<path d="M85.30,223.90L88.80,227.40L85.30,230.90L81.80,227.40Z" fill="#dcf0c0" stroke="#222" stroke-width="0.9"/>
<path d="M90.30,225.40L93.80,228.90L90.30,232.40L86.80,228.90Z" fill="#dcf0c0" stroke="#222" stroke-width="0.9"/>
<path d="M80.30,229.90L83.80,233.40L80.30,236.90L76.80,233.40Z" fill="#dcf0c0" stroke="#222" stroke-width="0.9"/>
<path d="M84.80,232.40L88.30,235.90L84.80,239.40L81.30,235.90Z" fill="#dcf0c0" stroke="#222" stroke-width="0.9"/>
<path d="M89.30,230.40L92.80,233.90L89.30,237.40L85.80,233.90Z" fill="#dcf0c0" stroke="#222" stroke-width="0.9"/>
<path d="M95.70,229.40L99.20,232.90L95.70,236.40L92.20,232.90Z" fill="#dcf0c0" stroke="#222" stroke-width="0.9"/>
<path d="M101.20,226.40L104.70,229.90L101.20,233.40L97.70,229.90Z" fill="#dcf0c0" stroke="#222" stroke-width="0.9"/>
<path d="M106.10,228.90L109.60,232.40L106.10,235.90L102.60,232.40Z" fill="#dcf0c0" stroke="#222" stroke-width="0.9"/>
<path d="M118.70,229.00L122.20,232.50L118.70,236.00L115.20,232.50Z" fill="#dcf0c0" stroke="#222" stroke-width="0.9"/>
<path d="M88.80,237.30L92.30,240.80L88.80,244.30L85.30,240.80Z" fill="#dcf0c0" stroke="#222" stroke-width="0.9"/>
<path d="M98.20,235.30L101.70,238.80L98.20,242.30L94.70,238.80Z" fill="#dcf0c0" stroke="#222" stroke-width="0.9"/>
<path d="M121.10,211.70L124.60,215.20L121.10,218.70L117.60,215.20Z" fill="#dcf0c0" stroke="#222" stroke-width="0.9"/>
<path d="M125.50,207.80L129.00,211.30L125.50,214.80L122.00,211.30Z" fill="#dcf0c0" stroke="#222" stroke-width="0.9"/>
<path d="M133.90,212.70L137.40,216.20L133.90,219.70L130.40,216.20Z" fill="#dcf0c0" stroke="#222" stroke-width="0.9"/>
<path d="M144.10,223.60L147.60,227.10L144.10,230.60L140.60,227.10Z" fill="#dcf0c0" stroke="#222" stroke-width="0.9"/>
<path d="M188.30,212.40L191.80,215.90L188.30,219.40L184.80,215.90Z" fill="#dcf0c0" stroke="#222" stroke-width="0.9"/>
<path d="M191.60,233.50L195.10,237.00L191.60,240.50L188.10,237.00Z" fill="#dcf0c0" stroke="#222" stroke-width="0.9"/>
<path d="M70.90,212.00L74.40,215.50L70.90,219.00L67.40,215.50Z" fill="#dcf0c0" stroke="#222" stroke-width="0.9"/>
<path d="M64.30,169.70C64.60,172.33 65.33,180.55 66.10,185.50C66.87,190.45 67.67,195.92 68.90,199.40C70.13,202.88 71.57,203.88 73.50,206.40C75.43,208.92 77.78,212.00 80.50,214.50C83.22,217.00 87.37,219.87 89.80,221.40C92.23,222.93 91.73,222.30 95.10,223.70C98.47,225.10 105.10,228.27 110.00,229.80C114.90,231.33 116.77,231.73 124.50,232.90C132.23,234.07 145.10,235.65 156.40,236.80C167.70,237.95 186.32,239.30 192.30,239.80" fill="none" stroke="#94e05a" stroke-width="1.3"/>
<path d="M212.70,149.20L216.00,154.94L209.40,154.94Z" fill="#d97cf2" stroke="#222" stroke-width="0.9"/>
<path d="M212.70,169.20L216.00,174.94L209.40,174.94Z" fill="#d97cf2" stroke="#222" stroke-width="0.9"/>
<path d="M212.40,168.50L215.70,174.24L209.10,174.24Z" fill="#d97cf2" stroke="#222" stroke-width="0.9"/>
<path d="M213.10,180.20L216.40,185.94L209.80,185.94Z" fill="#d97cf2" stroke="#222" stroke-width="0.9"/>
<path d="M217.70,200.80L221.00,206.54L214.40,206.54Z" fill="#d97cf2" stroke="#222" stroke-width="0.9"/>
<path d="M222.40,204.80L225.70,210.54L219.10,210.54Z" fill="#d97cf2" stroke="#222" stroke-width="0.9"/>
<path d="M216.20,207.30L219.50,213.04L212.90,213.04Z" fill="#d97cf2" stroke="#222" stroke-width="0.9"/>
<path d="M224.50,211.80L227.80,217.54L221.20,217.54Z" fill="#d97cf2" stroke="#222" stroke-width="0.9"/>
<path d="M242.60,215.50L245.90,221.24L239.30,221.24Z" fill="#d97cf2" stroke="#222" stroke-width="0.9"/>
<path d="M252.10,216.50L255.40,222.24L248.80,222.24Z" fill="#d97cf2" stroke="#222" stroke-width="0.9"/>
<path d="M262.40,215.40L265.70,221.14L259.10,221.14Z" fill="#d97cf2" stroke="#222" stroke-width="0.9"/>
<path d="M212.90,219.30L216.20,225.04L209.60,225.04Z" fill="#d97cf2" stroke="#222" stroke-width="0.9"/>
<path d="M215.70,219.30L219.00,225.04L212.40,225.04Z" fill="#d97cf2" stroke="#222" stroke-width="0.9"/>
<path d="M222.40,219.30L225.70,225.04L219.10,225.04Z" fill="#d97cf2" stroke="#222" stroke-width="0.9"/>
<path d="M216.90,224.80L220.20,230.54L213.60,230.54Z" fill="#d97cf2" stroke="#222" stroke-width="0.9"/>
<path d="M230.60,223.60L233.90,229.34L227.30,229.34Z" fill="#d97cf2" stroke="#222" stroke-width="0.9"/>
<path d="M219.90,229.10L223.20,234.84L216.60,234.84Z" fill="#d97cf2" stroke="#222" stroke-width="0.9"/>
<path d="M236.90,230.80L240.20,236.54L233.60,236.54Z" fill="#d97cf2" stroke="#222" stroke-width="0.9"/>
<path d="M218.40,235.80L221.70,241.54L215.10,241.54Z" fill="#d97cf2" stroke="#222" stroke-width="0.9"/>
<path d="M220.90,233.90L224.20,239.64L217.60,239.64Z" fill="#d97cf2" stroke="#222" stroke-width="0.9"/>
<path d="M223.30,236.80L226.60,242.54L220.00,242.54Z" fill="#d97cf2" stroke="#222" stroke-width="0.9"/>
<path d="M227.30,239.80L230.60,245.54L224.00,245.54Z" fill="#d97cf2" stroke="#222" stroke-width="0.9"/>
<path d="M336.50,214.80L339.80,220.54L333.20,220.54Z" fill="#d97cf2" stroke="#222" stroke-width="0.9"/>
<path d="M292.80,241.60L296.10,247.34L289.50,247.34Z" fill="#d97cf2" stroke="#222" stroke-width="0.9"/>
<path d="M342.50,245.20L345.80,250.94L339.20,250.94Z" fill="#d97cf2" stroke="#222" stroke-width="0.9"/>
<polyline points="212.00,169.03 212.05,171.02 212.11,172.97 212.17,174.88 212.23,176.74 212.30,178.57 212.37,180.35 212.45,182.10 212.53,183.81 212.62,185.48 212.71,187.11 212.81,188.71 212.92,190.27 213.03,191.80 213.16,193.30 213.28,194.76 213.42,196.19 213.57,197.59 213.72,198.96 213.89,200.30 214.07,201.61 214.26,202.89 214.46,204.15 214.67,205.37 214.90,206.57 215.15,207.75 215.41,208.89 215.69,210.02 215.98,211.12 216.30,212.19 216.63,213.24 216.99,214.27 217.37,215.27 217.78,216.26 218.22,217.22 218.68,218.16 219.17,219.08 219.70,219.98 220.26,220.86 220.86,221.72 221.49,222.56 222.17,223.39 222.89,224.19 223.67,224.98 224.49,225.75 225.36,226.51 226.30,227.25 227.29,227.97 228.36,228.67 229.49,229.37 230.69,230.04 231.98,230.70 233.35,231.35 234.81,231.98 236.37,232.60 238.03,233.20 239.80,233.80 241.68,234.37 243.70,234.94 245.84,235.49 248.12,236.04 250.56,236.57 253.15,237.08 255.92,237.59 258.87,238.09 262.02,238.57 265.37,239.05 268.94,239.51 272.75,239.96 276.81,240.41 281.13,240.84 285.75,241.27 290.66,241.68 295.91,242.09 301.49,242.49 307.45,242.88 313.80,243.26 320.56,243.63 327.78,243.99 335.47,244.35 343.66,244.70" fill="none" stroke="#a142f2" stroke-width="1.3"/>
<line x1="352.60" y1="260.20" x2="656.40" y2="260.20" stroke="#3a3a3a" stroke-width="1.1"/>
<line x1="656.40" y1="15.40" x2="656.40" y2="260.70" stroke="#1e1e1e" stroke-width="1.1"/>
<line x1="374.80" y1="260.20" x2="374.80" y2="265.20" stroke="#3a3a3a" stroke-width="1.0"/>
<text x="374.80" y="278.20" font-size="10" fill="#1e1e1e" text-anchor="middle" font-weight="normal" >0</text>
<line x1="396.66" y1="260.20" x2="396.66" y2="262.70" stroke="#3a3a3a" stroke-width="1.0"/>
<line x1="418.52" y1="260.20" x2="418.52" y2="265.20" stroke="#3a3a3a" stroke-width="1.0"/>
<text x="418.52" y="278.20" font-size="10" fill="#1e1e1e" text-anchor="middle" font-weight="normal" >1</text>
<line x1="440.38" y1="260.20" x2="440.38" y2="262.70" stroke="#3a3a3a" stroke-width="1.0"/>
<line x1="462.24" y1="260.20" x2="462.24" y2="265.20" stroke="#3a3a3a" stroke-width="1.0"/>
<text x="462.24" y="278.20" font-size="10" fill="#1e1e1e" text-anchor="middle" font-weight="normal" >2</text>
<line x1="484.10" y1="260.20" x2="484.10" y2="262.70" stroke="#3a3a3a" stroke-width="1.0"/>
<line x1="505.96" y1="260.20" x2="505.96" y2="265.20" stroke="#3a3a3a" stroke-width="1.0"/>
<text x="505.96" y="278.20" font-size="10" fill="#1e1e1e" text-anchor="middle" font-weight="normal" >3</text>
<line x1="527.82" y1="260.20" x2="527.82" y2="262.70" stroke="#3a3a3a" stroke-width="1.0"/>
<line x1="549.68" y1="260.20" x2="549.68" y2="265.20" stroke="#3a3a3a" stroke-width="1.0"/>
<text x="549.68" y="278.20" font-size="10" fill="#1e1e1e" text-anchor="middle" font-weight="normal" >4</text>
<line x1="571.54" y1="260.20" x2="571.54" y2="262.70" stroke="#3a3a3a" stroke-width="1.0"/>
<line x1="593.40" y1="260.20" x2="593.40" y2="265.20" stroke="#3a3a3a" stroke-width="1.0"/>
<text x="593.40" y="278.20" font-size="10" fill="#1e1e1e" text-anchor="middle" font-weight="normal" >5</text>
<line x1="615.26" y1="260.20" x2="615.26" y2="262.70" stroke="#3a3a3a" stroke-width="1.0"/>
<line x1="637.12" y1="260.20" x2="637.12" y2="265.20" stroke="#3a3a3a" stroke-width="1.0"/>
<text x="637.12" y="278.20" font-size="10" fill="#1e1e1e" text-anchor="middle" font-weight="normal" >6</text>
<line x1="656.40" y1="260.20" x2="662.00" y2="260.20" stroke="#1e1e1e" stroke-width="1.0"/>
<text x="666.00" y="263.80" font-size="10" fill="#1e1e1e" text-anchor="start" font-weight="normal" >0.00</text>
<line x1="656.40" y1="242.71" x2="659.40" y2="242.71" stroke="#1e1e1e" stroke-width="1.0"/>
<line x1="656.40" y1="225.23" x2="662.00" y2="225.23" stroke="#1e1e1e" stroke-width="1.0"/>
<text x="666.00" y="228.83" font-size="10" fill="#1e1e1e" text-anchor="start" font-weight="normal" >0.02</text>
<line x1="656.40" y1="207.75" x2="659.40" y2="207.75" stroke="#1e1e1e" stroke-width="1.0"/>
<line x1="656.40" y1="190.26" x2="662.00" y2="190.26" stroke="#1e1e1e" stroke-width="1.0"/>
<text x="666.00" y="193.86" font-size="10" fill="#1e1e1e" text-anchor="start" font-weight="normal" >0.04</text>
<line x1="656.40" y1="172.77" x2="659.40" y2="172.77" stroke="#1e1e1e" stroke-width="1.0"/>
<line x1="656.40" y1="155.29" x2="662.00" y2="155.29" stroke="#1e1e1e" stroke-width="1.0"/>
<text x="666.00" y="158.89" font-size="10" fill="#1e1e1e" text-anchor="start" font-weight="normal" >0.06</text>
<line x1="656.40" y1="137.80" x2="659.40" y2="137.80" stroke="#1e1e1e" stroke-width="1.0"/>
<line x1="656.40" y1="120.32" x2="662.00" y2="120.32" stroke="#1e1e1e" stroke-width="1.0"/>
<text x="666.00" y="123.92" font-size="10" fill="#1e1e1e" text-anchor="start" font-weight="normal" >0.08</text>
<line x1="656.40" y1="102.84" x2="659.40" y2="102.84" stroke="#1e1e1e" stroke-width="1.0"/>
<line x1="656.40" y1="85.35" x2="662.00" y2="85.35" stroke="#1e1e1e" stroke-width="1.0"/>
<text x="666.00" y="88.95" font-size="10" fill="#1e1e1e" text-anchor="start" font-weight="normal" >0.10</text>
<line x1="656.40" y1="67.86" x2="659.40" y2="67.86" stroke="#1e1e1e" stroke-width="1.0"/>
<line x1="656.40" y1="50.38" x2="662.00" y2="50.38" stroke="#1e1e1e" stroke-width="1.0"/>
<text x="666.00" y="53.98" font-size="10" fill="#1e1e1e" text-anchor="start" font-weight="normal" >0.12</text>
<line x1="656.40" y1="32.89" x2="659.40" y2="32.89" stroke="#1e1e1e" stroke-width="1.0"/>
<line x1="656.40" y1="15.41" x2="662.00" y2="15.41" stroke="#1e1e1e" stroke-width="1.0"/>
<text x="666.00" y="19.01" font-size="10" fill="#1e1e1e" text-anchor="start" font-weight="normal" >0.14</text>
<text x="490.0" y="298.7" font-size="12.5" fill="#1a1a1a"><tspan font-family="Liberation Serif, serif" font-size="13">δ</tspan> (%)</text>
<text transform="translate(703.00,150.60) rotate(-90)" font-size="11" fill="#1a1a1a" text-anchor="middle">σ</text>
<text transform="translate(705.60,143.90) rotate(-90)" font-size="7.5" fill="#1a1a1a" text-anchor="middle">1</text>
<text transform="translate(701.80,129.30) rotate(-90)" font-size="11" fill="#1a1a1a" text-anchor="middle">(Å)</text>
<text x="364.40" y="41.00" font-size="15.5" fill="#111" text-anchor="start" font-weight="bold" >b</text>
<circle cx="527.40" cy="142.20" r="2.85" fill="#c6e6fa" stroke="#4a5a68" stroke-width="0.85"/>
<circle cx="547.10" cy="138.70" r="2.85" fill="#c6e6fa" stroke="#4a5a68" stroke-width="0.85"/>
<circle cx="547.10" cy="142.60" r="2.85" fill="#c6e6fa" stroke="#4a5a68" stroke-width="0.85"/>
<circle cx="544.10" cy="159.90" r="2.85" fill="#c6e6fa" stroke="#4a5a68" stroke-width="0.85"/>
<circle cx="538.60" cy="167.80" r="2.85" fill="#c6e6fa" stroke="#4a5a68" stroke-width="0.85"/>
<circle cx="493.90" cy="174.30" r="2.85" fill="#c6e6fa" stroke="#4a5a68" stroke-width="0.85"/>
<circle cx="512.80" cy="175.90" r="2.85" fill="#c6e6fa" stroke="#4a5a68" stroke-width="0.85"/>
<circle cx="511.80" cy="181.90" r="2.85" fill="#c6e6fa" stroke="#4a5a68" stroke-width="0.85"/>
<circle cx="527.20" cy="183.90" r="2.85" fill="#c6e6fa" stroke="#4a5a68" stroke-width="0.85"/>
<circle cx="539.10" cy="169.00" r="2.85" fill="#c6e6fa" stroke="#4a5a68" stroke-width="0.85"/>
<circle cx="540.10" cy="172.00" r="2.85" fill="#c6e6fa" stroke="#4a5a68" stroke-width="0.85"/>
<circle cx="446.30" cy="199.40" r="2.85" fill="#c6e6fa" stroke="#4a5a68" stroke-width="0.85"/>
<circle cx="603.30" cy="96.00" r="2.85" fill="#c6e6fa" stroke="#4a5a68" stroke-width="0.85"/>
<circle cx="602.90" cy="102.60" r="2.85" fill="#c6e6fa" stroke="#4a5a68" stroke-width="0.85"/>
<circle cx="606.10" cy="109.90" r="2.85" fill="#c6e6fa" stroke="#4a5a68" stroke-width="0.85"/>
<circle cx="607.50" cy="133.20" r="2.85" fill="#c6e6fa" stroke="#4a5a68" stroke-width="0.85"/>
<circle cx="601.60" cy="139.80" r="2.85" fill="#c6e6fa" stroke="#4a5a68" stroke-width="0.85"/>
<circle cx="574.30" cy="162.30" r="2.85" fill="#c6e6fa" stroke="#4a5a68" stroke-width="0.85"/>
<circle cx="607.20" cy="160.40" r="2.85" fill="#c6e6fa" stroke="#4a5a68" stroke-width="0.85"/>
<circle cx="614.70" cy="166.40" r="2.85" fill="#c6e6fa" stroke="#4a5a68" stroke-width="0.85"/>
<circle cx="556.80" cy="169.00" r="2.85" fill="#c6e6fa" stroke="#4a5a68" stroke-width="0.85"/>
<circle cx="557.90" cy="175.40" r="2.85" fill="#c6e6fa" stroke="#4a5a68" stroke-width="0.85"/>
<circle cx="557.90" cy="178.40" r="2.85" fill="#c6e6fa" stroke="#4a5a68" stroke-width="0.85"/>
<circle cx="574.80" cy="171.50" r="2.85" fill="#c6e6fa" stroke="#4a5a68" stroke-width="0.85"/>
<circle cx="578.30" cy="171.50" r="2.85" fill="#c6e6fa" stroke="#4a5a68" stroke-width="0.85"/>
<circle cx="633.30" cy="120.80" r="2.85" fill="#c6e6fa" stroke="#4a5a68" stroke-width="0.85"/>
<circle cx="633.80" cy="128.40" r="2.85" fill="#c6e6fa" stroke="#4a5a68" stroke-width="0.85"/>
<circle cx="621.80" cy="130.90" r="2.85" fill="#c6e6fa" stroke="#4a5a68" stroke-width="0.85"/>
<circle cx="621.80" cy="133.90" r="2.85" fill="#c6e6fa" stroke="#4a5a68" stroke-width="0.85"/>
<circle cx="622.80" cy="141.80" r="2.85" fill="#c6e6fa" stroke="#4a5a68" stroke-width="0.85"/>
<circle cx="622.80" cy="147.00" r="2.85" fill="#c6e6fa" stroke="#4a5a68" stroke-width="0.85"/>
<circle cx="629.30" cy="154.40" r="2.85" fill="#c6e6fa" stroke="#4a5a68" stroke-width="0.85"/>
<circle cx="576.30" cy="134.40" r="2.85" fill="#c6e6fa" stroke="#4a5a68" stroke-width="0.85"/>
<path d="M419.50,159.60L422.90,163.00L419.50,166.40L416.10,163.00Z" fill="#e2f2c8" stroke="#2a2a2a" stroke-width="0.85"/>
<path d="M416.10,168.00L419.50,171.40L416.10,174.80L412.70,171.40Z" fill="#e2f2c8" stroke="#2a2a2a" stroke-width="0.85"/>
<path d="M397.40,182.20L400.80,185.60L397.40,189.00L394.00,185.60Z" fill="#e2f2c8" stroke="#2a2a2a" stroke-width="0.85"/>
<path d="M419.10,202.00L422.50,205.40L419.10,208.80L415.70,205.40Z" fill="#e2f2c8" stroke="#2a2a2a" stroke-width="0.85"/>
<path d="M416.70,210.40L420.10,213.80L416.70,217.20L413.30,213.80Z" fill="#e2f2c8" stroke="#2a2a2a" stroke-width="0.85"/>
<path d="M481.40,173.50L484.80,176.90L481.40,180.30L478.00,176.90Z" fill="#e2f2c8" stroke="#2a2a2a" stroke-width="0.85"/>
<path d="M480.10,183.40L483.50,186.80L480.10,190.20L476.70,186.80Z" fill="#e2f2c8" stroke="#2a2a2a" stroke-width="0.85"/>
<path d="M483.50,189.40L486.90,192.80L483.50,196.20L480.10,192.80Z" fill="#e2f2c8" stroke="#2a2a2a" stroke-width="0.85"/>
<path d="M471.60,190.80L475.00,194.20L471.60,197.60L468.20,194.20Z" fill="#e2f2c8" stroke="#2a2a2a" stroke-width="0.85"/>
<path d="M430.40,204.00L433.80,207.40L430.40,210.80L427.00,207.40Z" fill="#e2f2c8" stroke="#2a2a2a" stroke-width="0.85"/>
<path d="M433.90,204.50L437.30,207.90L433.90,211.30L430.50,207.90Z" fill="#e2f2c8" stroke="#2a2a2a" stroke-width="0.85"/>
<path d="M430.90,208.40L434.30,211.80L430.90,215.20L427.50,211.80Z" fill="#e2f2c8" stroke="#2a2a2a" stroke-width="0.85"/>
<path d="M439.40,214.40L442.80,217.80L439.40,221.20L436.00,217.80Z" fill="#e2f2c8" stroke="#2a2a2a" stroke-width="0.85"/>
<path d="M468.60,203.50L472.00,206.90L468.60,210.30L465.20,206.90Z" fill="#e2f2c8" stroke="#2a2a2a" stroke-width="0.85"/>
<path d="M471.60,191.60L475.00,195.00L471.60,198.40L468.20,195.00Z" fill="#e2f2c8" stroke="#2a2a2a" stroke-width="0.85"/>
<path d="M472.60,196.00L476.00,199.40L472.60,202.80L469.20,199.40Z" fill="#e2f2c8" stroke="#2a2a2a" stroke-width="0.85"/>
<path d="M479.10,197.50L482.50,200.90L479.10,204.30L475.70,200.90Z" fill="#e2f2c8" stroke="#2a2a2a" stroke-width="0.85"/>
<path d="M450.30,218.00L453.70,221.40L450.30,224.80L446.90,221.40Z" fill="#e2f2c8" stroke="#2a2a2a" stroke-width="0.85"/>
<path d="M508.30,140.60L511.70,144.00L508.30,147.40L504.90,144.00Z" fill="#e2f2c8" stroke="#2a2a2a" stroke-width="0.85"/>
<path d="M510.30,143.60L513.70,147.00L510.30,150.40L506.90,147.00Z" fill="#e2f2c8" stroke="#2a2a2a" stroke-width="0.85"/>
<path d="M511.80,146.00L515.20,149.40L511.80,152.80L508.40,149.40Z" fill="#e2f2c8" stroke="#2a2a2a" stroke-width="0.85"/>
<path d="M510.30,156.00L513.70,159.40L510.30,162.80L506.90,159.40Z" fill="#e2f2c8" stroke="#2a2a2a" stroke-width="0.85"/>
<path d="M505.80,163.00L509.20,166.40L505.80,169.80L502.40,166.40Z" fill="#e2f2c8" stroke="#2a2a2a" stroke-width="0.85"/>
<path d="M506.40,167.10L509.80,170.50L506.40,173.90L503.00,170.50Z" fill="#e2f2c8" stroke="#2a2a2a" stroke-width="0.85"/>
<path d="M502.90,180.50L506.30,183.90L502.90,187.30L499.50,183.90Z" fill="#e2f2c8" stroke="#2a2a2a" stroke-width="0.85"/>
<path d="M511.80,189.00L515.20,192.40L511.80,195.80L508.40,192.40Z" fill="#e2f2c8" stroke="#2a2a2a" stroke-width="0.85"/>
<path d="M531.70,183.40L535.10,186.80L531.70,190.20L528.30,186.80Z" fill="#e2f2c8" stroke="#2a2a2a" stroke-width="0.85"/>
<path d="M531.70,185.10L535.10,188.50L531.70,191.90L528.30,188.50Z" fill="#e2f2c8" stroke="#2a2a2a" stroke-width="0.85"/>
<path d="M496.40,201.00L499.80,204.40L496.40,207.80L493.00,204.40Z" fill="#e2f2c8" stroke="#2a2a2a" stroke-width="0.85"/>
<path d="M493.60,110.90L497.00,114.30L493.60,117.70L490.20,114.30Z" fill="#e2f2c8" stroke="#2a2a2a" stroke-width="0.85"/>
<path d="M539.80,119.50L543.20,122.90L539.80,126.30L536.40,122.90Z" fill="#e2f2c8" stroke="#2a2a2a" stroke-width="0.85"/>
<path d="M538.70,125.10L542.10,128.50L538.70,131.90L535.30,128.50Z" fill="#e2f2c8" stroke="#2a2a2a" stroke-width="0.85"/>
<path d="M526.80,46.50L530.20,49.90L526.80,53.30L523.40,49.90Z" fill="#e2f2c8" stroke="#2a2a2a" stroke-width="0.85"/>
<path d="M599.90,56.40L603.30,59.80L599.90,63.20L596.50,59.80Z" fill="#e2f2c8" stroke="#2a2a2a" stroke-width="0.85"/>
<path d="M570.50,82.50L573.90,85.90L570.50,89.30L567.10,85.90Z" fill="#e2f2c8" stroke="#2a2a2a" stroke-width="0.85"/>
<path d="M570.00,92.60L573.40,96.00L570.00,99.40L566.60,96.00Z" fill="#e2f2c8" stroke="#2a2a2a" stroke-width="0.85"/>
<path d="M605.10,107.50L608.50,110.90L605.10,114.30L601.70,110.90Z" fill="#e2f2c8" stroke="#2a2a2a" stroke-width="0.85"/>
<path d="M597.70,113.20L601.10,116.60L597.70,120.00L594.30,116.60Z" fill="#e2f2c8" stroke="#2a2a2a" stroke-width="0.85"/>
<path d="M597.20,116.60L600.60,120.00L597.20,123.40L593.80,120.00Z" fill="#e2f2c8" stroke="#2a2a2a" stroke-width="0.85"/>
<path d="M613.50,129.50L616.90,132.90L613.50,136.30L610.10,132.90Z" fill="#e2f2c8" stroke="#2a2a2a" stroke-width="0.85"/>
<path d="M572.60,144.00L576.00,147.40L572.60,150.80L569.20,147.40Z" fill="#e2f2c8" stroke="#2a2a2a" stroke-width="0.85"/>
<path d="M571.40,148.00L574.80,151.40L571.40,154.80L568.00,151.40Z" fill="#e2f2c8" stroke="#2a2a2a" stroke-width="0.85"/>
<rect x="424.95" y="178.05" width="4.9" height="4.9" fill="#e39a62" stroke="#2e2418" stroke-width="0.85"/>
<rect x="479.45" y="178.55" width="4.9" height="4.9" fill="#e39a62" stroke="#2e2418" stroke-width="0.85"/>
<rect x="475.65" y="189.15" width="4.9" height="4.9" fill="#e39a62" stroke="#2e2418" stroke-width="0.85"/>
<rect x="431.95" y="194.35" width="4.9" height="4.9" fill="#e39a62" stroke="#2e2418" stroke-width="0.85"/>
<rect x="441.35" y="196.15" width="4.9" height="4.9" fill="#e39a62" stroke="#2e2418" stroke-width="0.85"/>
<rect x="441.15" y="200.45" width="4.9" height="4.9" fill="#e39a62" stroke="#2e2418" stroke-width="0.85"/>
<rect x="428.45" y="205.95" width="4.9" height="4.9" fill="#e39a62" stroke="#2e2418" stroke-width="0.85"/>
<rect x="477.15" y="194.55" width="4.9" height="4.9" fill="#e39a62" stroke="#2e2418" stroke-width="0.85"/>
<rect x="491.25" y="147.75" width="4.9" height="4.9" fill="#e39a62" stroke="#2e2418" stroke-width="0.85"/>
<rect x="491.25" y="149.95" width="4.9" height="4.9" fill="#e39a62" stroke="#2e2418" stroke-width="0.85"/>
<rect x="508.75" y="137.15" width="4.9" height="4.9" fill="#e39a62" stroke="#2e2418" stroke-width="0.85"/>
<rect x="508.25" y="119.45" width="4.9" height="4.9" fill="#e39a62" stroke="#2e2418" stroke-width="0.85"/>
<rect x="524.95" y="118.85" width="4.9" height="4.9" fill="#e39a62" stroke="#2e2418" stroke-width="0.85"/>
<rect x="524.65" y="91.35" width="4.9" height="4.9" fill="#e39a62" stroke="#2e2418" stroke-width="0.85"/>
<rect x="544.55" y="79.95" width="4.9" height="4.9" fill="#e39a62" stroke="#2e2418" stroke-width="0.85"/>
<rect x="539.15" y="148.45" width="4.9" height="4.9" fill="#e39a62" stroke="#2e2418" stroke-width="0.85"/>
<rect x="520.75" y="155.45" width="4.9" height="4.9" fill="#e39a62" stroke="#2e2418" stroke-width="0.85"/>
<rect x="536.65" y="153.45" width="4.9" height="4.9" fill="#e39a62" stroke="#2e2418" stroke-width="0.85"/>
<rect x="536.65" y="157.95" width="4.9" height="4.9" fill="#e39a62" stroke="#2e2418" stroke-width="0.85"/>
<rect x="505.85" y="160.85" width="4.9" height="4.9" fill="#e39a62" stroke="#2e2418" stroke-width="0.85"/>
<rect x="552.45" y="152.95" width="4.9" height="4.9" fill="#e39a62" stroke="#2e2418" stroke-width="0.85"/>
<rect x="503.45" y="173.45" width="4.9" height="4.9" fill="#e39a62" stroke="#2e2418" stroke-width="0.85"/>
<rect x="509.35" y="169.95" width="4.9" height="4.9" fill="#e39a62" stroke="#2e2418" stroke-width="0.85"/>
<rect x="503.95" y="178.45" width="4.9" height="4.9" fill="#e39a62" stroke="#2e2418" stroke-width="0.85"/>
<rect x="503.95" y="182.45" width="4.9" height="4.9" fill="#e39a62" stroke="#2e2418" stroke-width="0.85"/>
<rect x="506.35" y="183.95" width="4.9" height="4.9" fill="#e39a62" stroke="#2e2418" stroke-width="0.85"/>
<rect x="516.35" y="175.45" width="4.9" height="4.9" fill="#e39a62" stroke="#2e2418" stroke-width="0.85"/>
<rect x="520.75" y="176.95" width="4.9" height="4.9" fill="#e39a62" stroke="#2e2418" stroke-width="0.85"/>
<rect x="525.25" y="172.45" width="4.9" height="4.9" fill="#e39a62" stroke="#2e2418" stroke-width="0.85"/>
<rect x="517.35" y="185.35" width="4.9" height="4.9" fill="#e39a62" stroke="#2e2418" stroke-width="0.85"/>
<rect x="517.85" y="189.35" width="4.9" height="4.9" fill="#e39a62" stroke="#2e2418" stroke-width="0.85"/>
<rect x="521.95" y="190.15" width="4.9" height="4.9" fill="#e39a62" stroke="#2e2418" stroke-width="0.85"/>
<rect x="536.15" y="178.95" width="4.9" height="4.9" fill="#e39a62" stroke="#2e2418" stroke-width="0.85"/>
<rect x="535.15" y="189.95" width="4.9" height="4.9" fill="#e39a62" stroke="#2e2418" stroke-width="0.85"/>
<rect x="504.35" y="194.65" width="4.9" height="4.9" fill="#e39a62" stroke="#2e2418" stroke-width="0.85"/>
<rect x="488.05" y="193.55" width="4.9" height="4.9" fill="#e39a62" stroke="#2e2418" stroke-width="0.85"/>
<rect x="493.95" y="198.45" width="4.9" height="4.9" fill="#e39a62" stroke="#2e2418" stroke-width="0.85"/>
<rect x="568.05" y="91.45" width="4.9" height="4.9" fill="#e39a62" stroke="#2e2418" stroke-width="0.85"/>
<rect x="598.15" y="108.45" width="4.9" height="4.9" fill="#e39a62" stroke="#2e2418" stroke-width="0.85"/>
<rect x="599.15" y="119.35" width="4.9" height="4.9" fill="#e39a62" stroke="#2e2418" stroke-width="0.85"/>
<rect x="598.65" y="124.95" width="4.9" height="4.9" fill="#e39a62" stroke="#2e2418" stroke-width="0.85"/>
<rect x="598.15" y="131.95" width="4.9" height="4.9" fill="#e39a62" stroke="#2e2418" stroke-width="0.85"/>
<rect x="603.65" y="138.15" width="4.9" height="4.9" fill="#e39a62" stroke="#2e2418" stroke-width="0.85"/>
<rect x="603.85" y="136.15" width="4.9" height="4.9" fill="#e39a62" stroke="#2e2418" stroke-width="0.85"/>
<rect x="507.15" y="180.55" width="4.9" height="4.9" fill="#e39a62" stroke="#2e2418" stroke-width="0.85"/>
<rect x="507.45" y="183.75" width="4.9" height="4.9" fill="#e39a62" stroke="#2e2418" stroke-width="0.85"/>
<rect x="570.85" y="126.95" width="4.9" height="4.9" fill="#e39a62" stroke="#2e2418" stroke-width="0.85"/>
<rect x="570.85" y="129.95" width="4.9" height="4.9" fill="#e39a62" stroke="#2e2418" stroke-width="0.85"/>
<rect x="570.55" y="133.15" width="4.9" height="4.9" fill="#e39a62" stroke="#2e2418" stroke-width="0.85"/>
<rect x="570.35" y="136.55" width="4.9" height="4.9" fill="#e39a62" stroke="#2e2418" stroke-width="0.85"/>
<rect x="570.55" y="147.45" width="4.9" height="4.9" fill="#e39a62" stroke="#2e2418" stroke-width="0.85"/>
<rect x="554.05" y="163.95" width="4.9" height="4.9" fill="#e39a62" stroke="#2e2418" stroke-width="0.85"/>
<rect x="575.85" y="160.85" width="4.9" height="4.9" fill="#e39a62" stroke="#2e2418" stroke-width="0.85"/>
<rect x="575.35" y="164.95" width="4.9" height="4.9" fill="#e39a62" stroke="#2e2418" stroke-width="0.85"/>
<rect x="595.75" y="152.95" width="4.9" height="4.9" fill="#e39a62" stroke="#2e2418" stroke-width="0.85"/>
<rect x="611.55" y="147.45" width="4.9" height="4.9" fill="#e39a62" stroke="#2e2418" stroke-width="0.85"/>
<rect x="611.55" y="151.65" width="4.9" height="4.9" fill="#e39a62" stroke="#2e2418" stroke-width="0.85"/>
<rect x="570.35" y="174.45" width="4.9" height="4.9" fill="#e39a62" stroke="#2e2418" stroke-width="0.85"/>
<rect x="598.75" y="33.15" width="4.9" height="4.9" fill="#e39a62" stroke="#2e2418" stroke-width="0.85"/>
<rect x="602.15" y="76.55" width="4.9" height="4.9" fill="#e39a62" stroke="#2e2418" stroke-width="0.85"/>
<rect x="602.15" y="80.75" width="4.9" height="4.9" fill="#e39a62" stroke="#2e2418" stroke-width="0.85"/>
<rect x="619.45" y="91.65" width="4.9" height="4.9" fill="#e39a62" stroke="#2e2418" stroke-width="0.85"/>
<rect x="620.35" y="104.95" width="4.9" height="4.9" fill="#e39a62" stroke="#2e2418" stroke-width="0.85"/>
<rect x="626.85" y="131.45" width="4.9" height="4.9" fill="#e39a62" stroke="#2e2418" stroke-width="0.85"/>
<path d="M377.30,174.09L380.50,179.66L374.10,179.66Z" fill="#dc7cf2" stroke="#2a2a2a" stroke-width="0.85"/>
<path d="M421.00,167.69L424.20,173.26L417.80,173.26Z" fill="#dc7cf2" stroke="#2a2a2a" stroke-width="0.85"/>
<path d="M423.50,175.19L426.70,180.76L420.30,180.76Z" fill="#dc7cf2" stroke="#2a2a2a" stroke-width="0.85"/>
<path d="M420.00,179.09L423.20,184.66L416.80,184.66Z" fill="#dc7cf2" stroke="#2a2a2a" stroke-width="0.85"/>
<path d="M417.60,190.89L420.80,196.46L414.40,196.46Z" fill="#dc7cf2" stroke="#2a2a2a" stroke-width="0.85"/>
<path d="M397.20,215.09L400.40,220.66L394.00,220.66Z" fill="#dc7cf2" stroke="#2a2a2a" stroke-width="0.85"/>
<path d="M399.50,224.09L402.70,229.66L396.30,229.66Z" fill="#dc7cf2" stroke="#2a2a2a" stroke-width="0.85"/>
<path d="M409.40,226.89L412.60,232.46L406.20,232.46Z" fill="#dc7cf2" stroke="#2a2a2a" stroke-width="0.85"/>
<path d="M378.30,235.39L381.50,240.96L375.10,240.96Z" fill="#dc7cf2" stroke="#2a2a2a" stroke-width="0.85"/>
<path d="M442.30,205.39L445.50,210.96L439.10,210.96Z" fill="#dc7cf2" stroke="#2a2a2a" stroke-width="0.85"/>
<path d="M455.90,209.39L459.10,214.96L452.70,214.96Z" fill="#dc7cf2" stroke="#2a2a2a" stroke-width="0.85"/>
<path d="M445.70,212.99L448.90,218.56L442.50,218.56Z" fill="#dc7cf2" stroke="#2a2a2a" stroke-width="0.85"/>
<path d="M453.30,218.39L456.50,223.96L450.10,223.96Z" fill="#dc7cf2" stroke="#2a2a2a" stroke-width="0.85"/>
<path d="M464.70,200.89L467.90,206.46L461.50,206.46Z" fill="#dc7cf2" stroke="#2a2a2a" stroke-width="0.85"/>
<path d="M486.80,192.99L490.00,198.56L483.60,198.56Z" fill="#dc7cf2" stroke="#2a2a2a" stroke-width="0.85"/>
<path d="M487.30,167.99L490.50,173.56L484.10,173.56Z" fill="#dc7cf2" stroke="#2a2a2a" stroke-width="0.85"/>
<path d="M490.00,174.89L493.20,180.46L486.80,180.46Z" fill="#dc7cf2" stroke="#2a2a2a" stroke-width="0.85"/>
<path d="M490.20,182.39L493.40,187.96L487.00,187.96Z" fill="#dc7cf2" stroke="#2a2a2a" stroke-width="0.85"/>
<path d="M497.90,182.89L501.10,188.46L494.70,188.46Z" fill="#dc7cf2" stroke="#2a2a2a" stroke-width="0.85"/>
<path d="M500.90,188.39L504.10,193.96L497.70,193.96Z" fill="#dc7cf2" stroke="#2a2a2a" stroke-width="0.85"/>
<path d="M523.70,182.39L526.90,187.96L520.50,187.96Z" fill="#dc7cf2" stroke="#2a2a2a" stroke-width="0.85"/>
<path d="M532.20,152.39L535.40,157.96L529.00,157.96Z" fill="#dc7cf2" stroke="#2a2a2a" stroke-width="0.85"/>
<path d="M535.90,144.89L539.10,150.46L532.70,150.46Z" fill="#dc7cf2" stroke="#2a2a2a" stroke-width="0.85"/>
<path d="M535.20,104.29L538.40,109.86L532.00,109.86Z" fill="#dc7cf2" stroke="#2a2a2a" stroke-width="0.85"/>
<path d="M532.80,83.59L536.00,89.16L529.60,89.16Z" fill="#dc7cf2" stroke="#2a2a2a" stroke-width="0.85"/>
<path d="M557.40,157.39L560.60,162.96L554.20,162.96Z" fill="#dc7cf2" stroke="#2a2a2a" stroke-width="0.85"/>
<path d="M613.50,82.59L616.70,88.16L610.30,88.16Z" fill="#dc7cf2" stroke="#2a2a2a" stroke-width="0.85"/>
<path d="M647.30,41.09L650.50,46.66L644.10,46.66Z" fill="#dc7cf2" stroke="#2a2a2a" stroke-width="0.85"/>
<circle cx="523.20" cy="172.00" r="2.6" fill="#fff" stroke="#111" stroke-width="1.3"/>
<circle cx="506.40" cy="189.40" r="2.6" fill="#fff" stroke="#111" stroke-width="1.3"/>
<circle cx="542.10" cy="189.40" r="2.6" fill="#fff" stroke="#111" stroke-width="1.3"/>
<circle cx="524.70" cy="197.90" r="2.6" fill="#fff" stroke="#111" stroke-width="1.3"/>
<circle cx="580.30" cy="181.40" r="2.6" fill="#fff" stroke="#111" stroke-width="1.3"/>
<circle cx="629.30" cy="154.40" r="2.3" fill="none" stroke="#222" stroke-width="1.0"/>
<circle cx="607.50" cy="133.60" r="2.3" fill="none" stroke="#222" stroke-width="1.0"/>
<rect x="541.50" y="144.60" width="5.8" height="5.8" fill="#111"/>
<circle cx="544.40" cy="147.50" r="1.51" fill="none" stroke="#a8a8a8" stroke-width="0.7"/>
<rect x="565.50" y="133.00" width="5.8" height="5.8" fill="#111"/>
<circle cx="568.40" cy="135.90" r="1.51" fill="none" stroke="#a8a8a8" stroke-width="0.7"/>
<rect x="624.90" y="77.50" width="5.8" height="5.8" fill="#111"/>
<circle cx="627.80" cy="80.40" r="1.51" fill="none" stroke="#a8a8a8" stroke-width="0.7"/>
<circle cx="399.90" cy="31.50" r="3.0" fill="#c6e6fa" stroke="#4a5a68" stroke-width="0.85"/>
<text x="412.00" y="35.40" font-size="10.4" fill="#1e1e1e" text-anchor="start" font-weight="normal" >Hexinaries</text>
<circle cx="405.70" cy="44.30" r="2.3" fill="#fff" stroke="#111" stroke-width="1.15"/>
<text x="418.00" y="47.90" font-size="10.4" fill="#1e1e1e" text-anchor="start" font-weight="normal" >Exp. single-phase</text>
<rect x="403.20" y="54.20" width="5.0" height="5.0" fill="#111"/>
<circle cx="405.70" cy="56.70" r="1.30" fill="none" stroke="#a8a8a8" stroke-width="0.7"/>
<text x="418.00" y="59.70" font-size="10.4" fill="#1e1e1e" text-anchor="start" font-weight="normal" >Exp. multi-phase</text>
<rect x="397.40" y="66.80" width="5.0" height="5.0" fill="#e39a62" stroke="#2e2418" stroke-width="0.85"/>
<text x="412.00" y="72.70" font-size="10.4" fill="#1e1e1e" text-anchor="start" font-weight="normal" >Quinaries</text>
<path d="M399.90,78.20L403.60,81.90L399.90,85.60L396.20,81.90Z" fill="#e2f2c8" stroke="#2a2a2a" stroke-width="0.85"/>
<text x="412.00" y="85.20" font-size="10.4" fill="#1e1e1e" text-anchor="start" font-weight="normal" >Quaternaries</text>
<path d="M399.90,91.39L403.00,96.78L396.80,96.78Z" fill="#dc7cf2" stroke="#2a2a2a" stroke-width="0.85"/>
<text x="412.00" y="97.50" font-size="10.4" fill="#1e1e1e" text-anchor="start" font-weight="normal" >Ternaries</text>
</svg>
</body></html>
